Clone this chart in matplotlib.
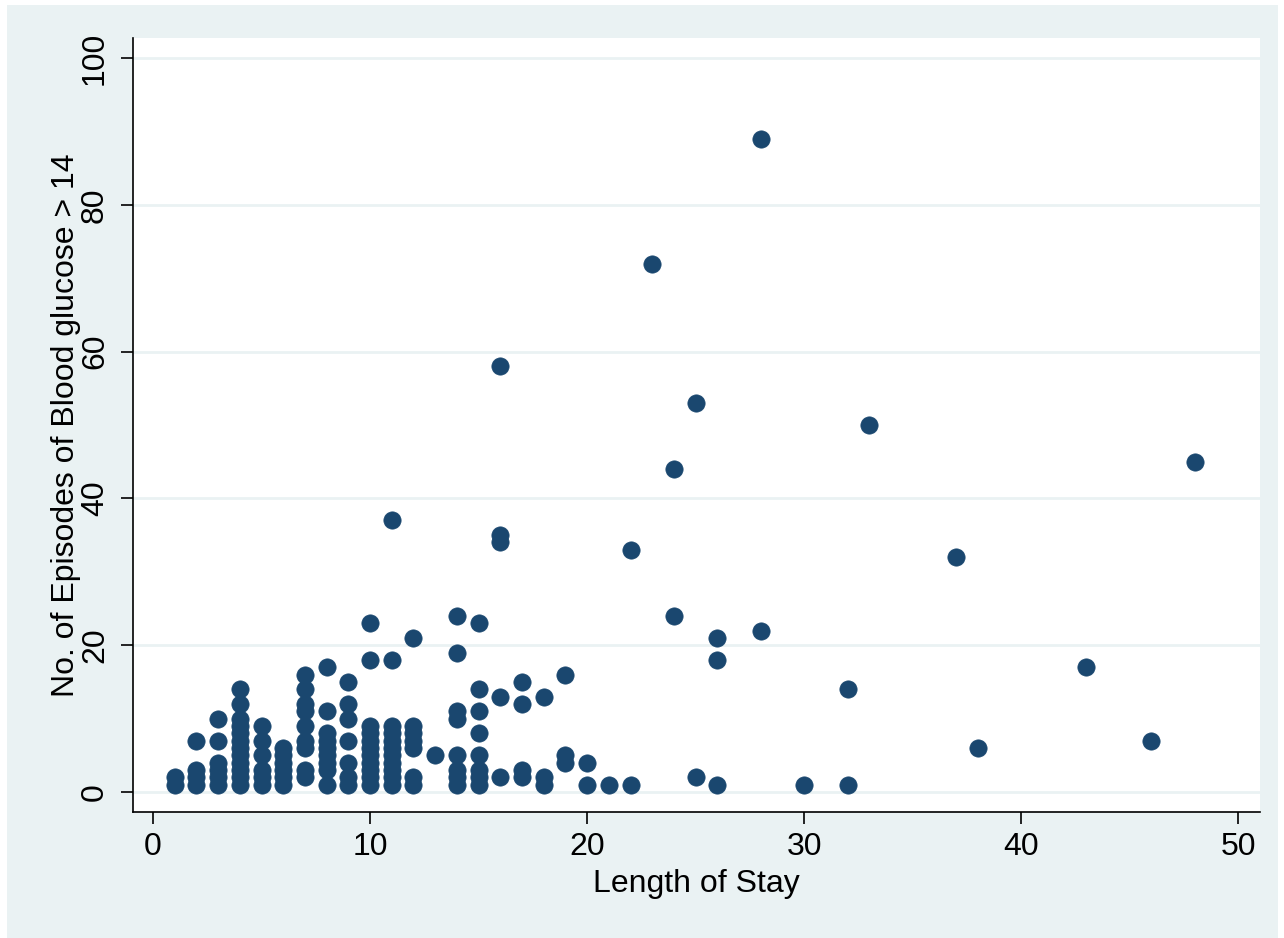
import matplotlib.pyplot as plt
from matplotlib.patches import Rectangle

# length of stay (days) and number of high-glucose episodes, one pair per patient
stay_days = (
    [1] * 2 + [2] * 4 + [3] * 6 + [4] * 12 + [5] * 6 + [6] * 6 + [7] * 9
    + [8] * 9 + [9] * 7 + [10] * 11 + [11] * 11 + [12] * 7 + [13]
    + [14] * 8 + [15] * 8 + [16] * 5 + [17] * 4 + [18] * 3 + [19] * 3
    + [20] * 2 + [21] + [22] * 2 + [23] + [24] * 2 + [25] * 2 + [26] * 3
    + [28] * 2 + [30] + [32] * 2 + [33] + [37] + [38] + [43] + [46] + [48]
)
episodes = (
    [1, 2]
    + [1, 2, 3, 7]
    + [1, 2, 3, 4, 7, 10]
    + [1, 2, 3, 4, 5, 6, 7, 8, 9, 10, 12, 14]
    + [1, 2, 3, 5, 7, 9]
    + [1, 2, 3, 4, 5, 6]
    + [2, 3, 6, 7, 9, 11, 12, 14, 16]
    + [1, 3, 4, 5, 6, 7, 8, 11, 17]
    + [1, 2, 4, 7, 10, 12, 15]
    + [1, 2, 3, 4, 5, 6, 7, 8, 9, 18, 23]
    + [1, 2, 3, 4, 5, 6, 7, 8, 9, 18, 37]
    + [1, 2, 6, 7, 8, 9, 21]
    + [5]
    + [1, 2, 3, 5, 10, 11, 19, 24]
    + [1, 2, 3, 5, 8, 11, 14, 23]
    + [2, 13, 34, 35, 58]
    + [2, 3, 12, 15]
    + [1, 2, 13]
    + [4, 5, 16]
    + [1, 4]
    + [1]
    + [1, 33]
    + [72]
    + [24, 44]
    + [2, 53]
    + [1, 18, 21]
    + [22, 89]
    + [1]
    + [1, 14]
    + [50]
    + [32]
    + [6]
    + [17]
    + [7]
    + [45]
)

x_ticks = [0, 10, 20, 30, 40, 50]
y_ticks = [0, 20, 40, 60, 80, 100]

navy = "#1A476F"
panel = "#EAF2F3"

plt.rcParams["font.family"] = ["Liberation Sans", "DejaVu Sans"]

fig = plt.figure(figsize=(12.84, 9.38), dpi=100, facecolor="white")
# light graph region behind the white plot region
fig.patches.append(Rectangle((7 / 1284, 0), 1271 / 1284, 933 / 938,
                             transform=fig.transFigure, facecolor=panel,
                             edgecolor="none", zorder=-10))

ax = fig.add_axes([133 / 1284, 126 / 938, 1127 / 1284, 774 / 938])
ax.set_facecolor("white")

ax.scatter(stay_days, episodes, s=155, color=navy, edgecolors=navy,
           linewidths=0.5, zorder=3)

ax.set_xlim(-0.92, 51.0)
ax.set_ylim(-2.72, 102.72)
ax.set_xticks(x_ticks)
ax.set_yticks(y_ticks)
ax.yaxis.grid(True, color=panel, linewidth=2.0, zorder=1)
ax.set_axisbelow(True)

for side in ("top", "right"):
    ax.spines[side].set_visible(False)
for side in ("left", "bottom"):
    ax.spines[side].set_linewidth(1.2)

ax.tick_params(axis="both", length=8.6, width=1.2, labelsize=23)
ax.tick_params(axis="x", pad=6)
ax.tick_params(axis="y", pad=8)
for lab in ax.get_yticklabels():
    lab.set_rotation(90)
    lab.set_va("center")

ax.set_xlabel("Length of Stay", fontsize=23, labelpad=5)
ax.set_ylabel("No. of Episodes of Blood glucose > 14", fontsize=23, labelpad=-1)

fig.savefig("out.png", dpi=100, facecolor="white")
